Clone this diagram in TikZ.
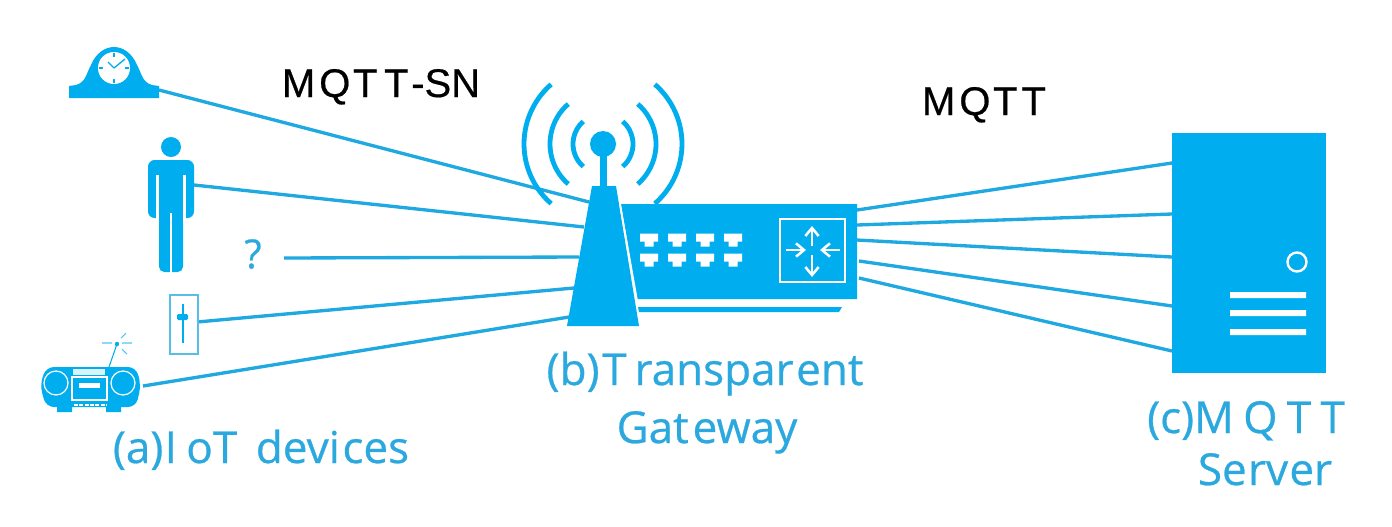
\documentclass[tikz,border=0pt]{standalone}
\usepackage{fontspec}
\setmainfont{Open Sans}
\newfontfamily\blackface[FakeBold=0.5]{Liberation Sans}
\newfontfamily\blueface[FakeBold=0.6]{Open Sans}
\definecolor{iot}{HTML}{00AEEF}
\definecolor{wire}{HTML}{1FA9E0}
\definecolor{cap}{HTML}{2BA8DE}
\usetikzlibrary{arrows.meta}
\tikzset{
  x=.75pt,y=-.75pt,
  solid icon/.style={fill=iot,draw=none},
  link/.style={draw=wire,line width=2.5pt},
  wave/.style={draw=iot,line width=3.6pt},
  gap/.style={draw=white,line width=1.2pt},
  tick/.style={draw=iot,line width=1pt},
  blacklabel/.style={text=black,font=\blackface\fontsize{30}{32}\selectfont,inner sep=0pt,anchor=base},
  bluelabel/.style={text=cap,font=\blueface\fontsize{33}{35}\selectfont,inner sep=0pt,anchor=base},
  port/.pic={\fill[white] (-9,-6.5)--(9,-6.5)--(9,1.5)--(4.5,1.5)--(4.5,6.5)--(-4.5,6.5)--(-4.5,1.5)--(-9,1.5)--cycle;},
  router arrow/.style={draw=white,line width=1.9pt,-{Straight Barb[length=6pt,width=10pt]}}
}
\begin{document}
\begin{tikzpicture}
\path[use as bounding box] (0,0) rectangle (1392,526);

% named link ends
\coordinate (clockEnd) at (159,90);
\coordinate (personEnd) at (194,185);
\coordinate (qEnd) at (284,258);
\coordinate (sliderEnd) at (197,322);
\coordinate (radioEnd) at (143,386);
\coordinate (t1) at (589,202);
\coordinate (t2) at (584,227);
\coordinate (t3) at (579,257);
\coordinate (t4) at (574,288);
\coordinate (t5) at (569,317);
\coordinate (g1) at (857,210);
\coordinate (g2) at (857,225);
\coordinate (g3) at (857,240);
\coordinate (g4) at (859,261);
\coordinate (g5) at (859,278);
\coordinate (s1) at (1172,163);
\coordinate (s2) at (1172,214);
\coordinate (s3) at (1172,257);
\coordinate (s4) at (1172,306);
\coordinate (s5) at (1172,351);

\draw[link] (clockEnd) -- (t1);
\draw[link] (personEnd) -- (t2);
\draw[link] (qEnd) -- (t3);
\draw[link] (sliderEnd) -- (t4);
\draw[link] (radioEnd) -- (t5);
\draw[link] (g1) -- (s1);
\draw[link] (g2) -- (s2);
\draw[link] (g3) -- (s3);
\draw[link] (g4) -- (s4);
\draw[link] (g5) -- (s5);

% clock
\fill[solid icon] (69,98)--(69,86)--(76,85) .. controls (86,82) and (86,74) .. (91,65) .. controls (96,53) and (105,47) .. (114,47) .. controls (123,47) and (132,53) .. (137,65) .. controls (142,74) and (142,82) .. (152,85) -- (159,86)--(159,98)--cycle;
\fill[white] (114,68) circle (16);
\draw[tick] (114,53)--(114,57) (114,79)--(114,83) (99,68)--(103,68) (125,68)--(129,68);
\draw[tick] (114,68)--(125,59) (114,68)--(108,62);

% person
\fill[solid icon] (171,147) circle (10);
\fill[solid icon,rounded corners=5pt] (148,218)--(148,160)--(194,160)--(194,218)--cycle;
\fill[solid icon,rounded corners=4pt] (159,205) rectangle (183,272);
\draw[draw=white,line width=2pt] (157.5,175)--(157.5,224) (184.5,175)--(184.5,224);
\draw[gap] (171,213)--(171,273);

% question mark
\node[text=cap,font=\blueface\fontsize{30}{32}\selectfont,inner sep=0pt] (q) at (253,254) {?};

% slider
\draw[draw=wire!75,line width=1.1pt] (170,295) rectangle (198,354);
\draw[draw=iot,line width=1.8pt] (183,304)--(183,343);
\fill[solid icon,rounded corners=1pt] (177,314) rectangle (188,320);

% radio
\fill[solid icon,rounded corners=6pt] (46,367)--(136,367)--(141,385)--(136,407)--(46,407)--(40,385)--cycle;
\fill[solid icon] (57,407) rectangle (72,412) (106,407) rectangle (121,412);
\draw[white,line width=.9pt] (56,383) circle (12) (123,383) circle (12);
\draw[white,line width=.8pt] (72,377) rectangle (107,400);
\fill[white] (79,383) rectangle (100,388);
\fill[white!85!iot] (73,369) rectangle (105,375);
\draw[draw=white,line width=2pt,dash pattern=on 3pt off 1pt] (74,405)--(107,405);
\draw[draw=iot,line width=.8pt] (109,367)--(117,344);
\fill[solid icon] (117,344) circle (2.2);
\draw[draw=iot!70,line width=.8pt] (102,343)--(112,343) (122,343)--(132,343) (121,338)--(126,333) (122,349)--(127,354);

% antenna
\fill[solid icon] (603,144) circle (13);
\fill[solid icon] (600,150) rectangle (607,190);
\fill[solid icon] (592,186)--(616,186)--(639,326)--(567,326)--cycle;
\foreach \r in {30,53,79}{
  \draw[wave] ([shift={(131:\r)}]603,144) arc[start angle=131,end angle=229,radius=\r];
  \draw[wave] ([shift={(49:\r)}]603,144) arc[start angle=49,end angle=-49,radius=\r];
}

% gateway
\fill[solid icon] (621,204)--(857,204)--(857,299)--(637,299)--cycle;
\draw[gap] (620,204)--(637,300);
\fill[solid icon] (638,307)--(842,307)--(839,312)--(639,312)--cycle;
\foreach \x in {649,677,705,733}\foreach \y in {240,260}{\pic at (\x,\y) {port};}
\draw[white,line width=1.8pt] (780,219) rectangle (845,282);
\draw[router arrow] (812,246)--(812,226);
\draw[router arrow] (812,255)--(812,277);
\draw[router arrow] (786,250)--(806,250);
\draw[router arrow] (840,250)--(820,250);

% server
\fill[solid icon] (1172,133) rectangle (1326,373);
\draw[white,line width=1.8pt] (1297,262) circle (9.5);
\fill[white] (1230,292) rectangle (1306,298) (1230,310) rectangle (1306,316) (1230,329) rectangle (1306,335);

% labels
\node[blacklabel] (mqttsn) at (381,97) {M\kern3pt Q\kern2pt T\kern5pt T\kern2pt -SN};
\node[blacklabel] (mqtt) at (984,115) {M\kern3pt Q\kern2pt T\kern3pt T};
\node[bluelabel] (a) at (261,463) {(a)\kern1pt I\kern7pt oT\kern14pt devi\kern2pt ces};
\node[bluelabel] (b1) at (705,385) {(b)\kern2pt T\kern6pt ranspar\kern2pt ent};
\node[bluelabel] (b2) at (707,443) {Gat\kern3pt eway};
\node[bluelabel] (c1) at (1246,433) {(c)M\kern7pt Q\kern7pt T\kern7pt T};
\node[bluelabel] (c2) at (1265,485) {Se\kern1pt rv\kern1pt er};
\end{tikzpicture}
\end{document}
